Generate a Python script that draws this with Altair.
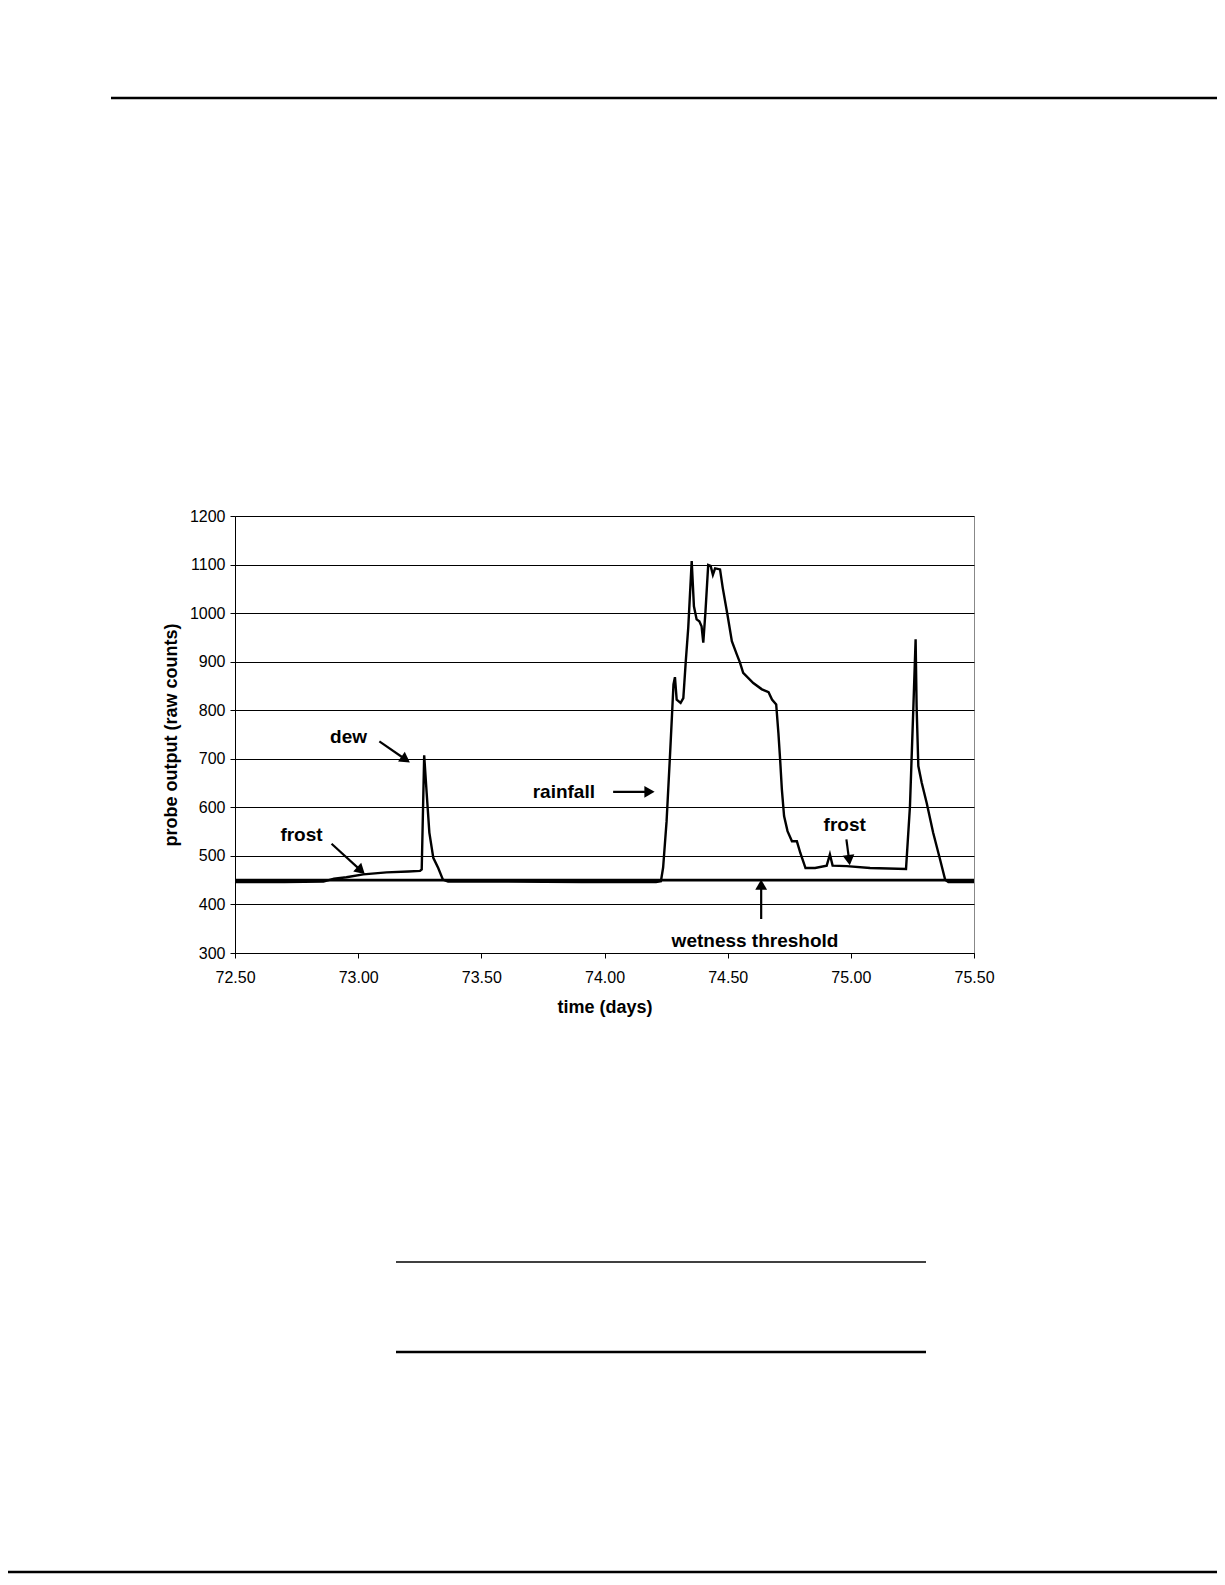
import altair as alt
import pandas as pd
import math

# ---- data ----
days = [72.50, 72.701, 72.859, 72.902, 72.952, 73.021, 73.115, 73.204, 73.251, 73.258,
        73.268, 73.278, 73.289, 73.305, 73.325, 73.344, 73.365, 73.606, 73.908, 74.209,
        74.229, 74.238, 74.252, 74.266, 74.274, 74.280, 74.286, 74.293, 74.309, 74.320,
        74.330, 74.340, 74.354, 74.363, 74.374, 74.385, 74.394, 74.401, 74.410, 74.421,
        74.431, 74.440, 74.449, 74.469, 74.480, 74.499, 74.517, 74.537, 74.550, 74.563,
        74.604, 74.639, 74.666, 74.680, 74.697, 74.706, 74.713, 74.720, 74.729, 74.743,
        74.761, 74.781, 74.795, 74.816, 74.855, 74.902, 74.915, 74.926, 74.983, 75.078,
        75.224, 75.240, 75.254, 75.263, 75.267, 75.274, 75.288, 75.308, 75.334, 75.362,
        75.383, 75.396, 75.50]
counts = [446, 446, 447, 453, 456, 462, 466, 468, 469, 472,
          707, 630, 548, 496, 475, 451, 447, 447, 446, 446,
          448, 476, 571, 708, 790, 853, 868, 822, 815, 825,
          901, 970, 1107, 1014, 987, 983, 973, 939, 1004, 1099,
          1097, 1079, 1092, 1090, 1052, 997, 942, 915, 898, 877,
          856, 843, 837, 822, 812, 753, 698, 637, 582, 551,
          530, 530, 506, 475, 475, 480, 503, 480, 479, 475,
          473, 602, 808, 946, 808, 685, 650, 609, 548, 493,
          451, 446, 446]

x_ticks = [72.5, 73.0, 73.5, 74.0, 74.5, 75.0, 75.5]
y_ticks = [300, 400, 500, 600, 700, 800, 900, 1000, 1100, 1200]
threshold = 450

label_text = ["dew", "frost", "rainfall", "frost", "wetness threshold"]
label_day = [72.961, 72.770, 73.835, 74.975, 74.611]
label_val = [745, 542, 632, 563, 324]

arrow_day0 = [73.086, 72.892, 74.035, 74.982, 74.636]
arrow_val0 = [736, 525, 632, 534, 370]
arrow_day1 = [73.211, 73.028, 74.205, 74.996, 74.636]
arrow_val1 = [692, 462, 632, 480, 452]

# ---- layout ----
W, H = 739, 437
px_day = W / 3.0
px_cnt = H / 900.0
FONT = "Liberation Sans"

series = pd.DataFrame({"day": days, "count": counts})

# arrows: shaft ends at the head, head centred just behind the tip
rows = []
for d0, v0, d1, v1 in zip(arrow_day0, arrow_val0, arrow_day1, arrow_val1):
    sx = (d1 - d0) * px_day
    sy = -(v1 - v0) * px_cnt
    L = math.hypot(sx, sy)
    ux, uy = sx / L, sy / L
    ang = math.degrees(math.atan2(ux, -uy)) % 360
    back = 5.5
    hd = d1 - back * ux / px_day
    hv = v1 + back * uy / px_cnt
    rows.append({"d0": d0, "v0": v0, "d1": hd, "v1": hv, "hd": hd, "hv": hv, "ang": ang})
arrows = pd.DataFrame(rows)
labels = pd.DataFrame({"t": label_text, "day": label_day, "val": label_val})

xs = alt.Scale(domain=[72.5, 75.5], nice=False, zero=False)
ys = alt.Scale(domain=[300, 1200], nice=False, zero=False)

x_axis = alt.Axis(values=x_ticks, format=".2f", grid=False, title="time (days)",
                  labelFont=FONT, labelFontSize=16, labelColor="black",
                  tickSize=5, tickColor="black", domainColor="black",
                  labelPadding=11, titleFont=FONT, titleFontSize=18,
                  titleFontWeight="bold", titleColor="black", titlePadding=13,
                  labelFlush=False)
y_axis = alt.Axis(values=y_ticks, format="d", grid=True, gridColor="black", gridWidth=1,
                  gridOpacity=1, title="probe output (raw counts)",
                  labelFont=FONT, labelFontSize=16, labelColor="black",
                  tickSize=5, tickColor="black", domainColor="black",
                  labelPadding=5, titleFont=FONT, titleFontSize=18,
                  titleFontWeight="bold", titleColor="black", titlePadding=9,
                  labelFlush=False)

line = alt.Chart(series).mark_line(color="black", strokeWidth=2.4).encode(
    x=alt.X("day:Q", scale=xs, axis=x_axis),
    y=alt.Y("count:Q", scale=ys, axis=y_axis),
)

thr = alt.Chart(alt.Data(values=[{"v": threshold, "a": 72.5, "b": 75.5}])).mark_rule(
    color="black", strokeWidth=2.6).encode(
    x=alt.X("a:Q", scale=xs), x2="b:Q", y=alt.Y("v:Q", scale=ys))

shafts = alt.Chart(arrows).mark_rule(color="black", strokeWidth=2.2).encode(
    x=alt.X("d0:Q", scale=xs), y=alt.Y("v0:Q", scale=ys), x2="d1:Q", y2="v1:Q")

heads = alt.Chart(arrows).mark_point(shape="triangle-up", filled=True, color="black",
                                     size=140, opacity=1).encode(
    x=alt.X("hd:Q", scale=xs), y=alt.Y("hv:Q", scale=ys),
    angle=alt.Angle("ang:Q", scale=None))

texts = alt.Chart(labels).mark_text(font=FONT, fontSize=19, fontWeight="bold",
                                    color="black", align="center",
                                    baseline="middle").encode(
    x=alt.X("day:Q", scale=xs), y=alt.Y("val:Q", scale=ys), text="t:N")

one = alt.Data(values=[{}])
deco = [
    alt.Chart(one).mark_rule(color="black", strokeWidth=2.5).encode(
        x=alt.value(-124), x2=alt.value(982), y=alt.value(-418)),
    alt.Chart(one).mark_rule(color="black", strokeWidth=1.5).encode(
        x=alt.value(161), x2=alt.value(691), y=alt.value(746)),
    alt.Chart(one).mark_rule(color="black", strokeWidth=2.5).encode(
        x=alt.value(161), x2=alt.value(691), y=alt.value(836)),
    alt.Chart(one).mark_rule(color="black", strokeWidth=2.5).encode(
        x=alt.value(-227), x2=alt.value(982), y=alt.value(1056)),
]

chart = alt.layer(thr, line, shafts, heads, texts, *deco).properties(
    width=W, height=H,
    autosize=alt.AutoSizeParams(type="none"),
    padding={"left": 227, "top": 508, "right": 243, "bottom": 621},
    background="white",
).configure_view(stroke="#888888", strokeWidth=1)

chart.save("out.html", embed_options={"renderer": "svg", "actions": False})
